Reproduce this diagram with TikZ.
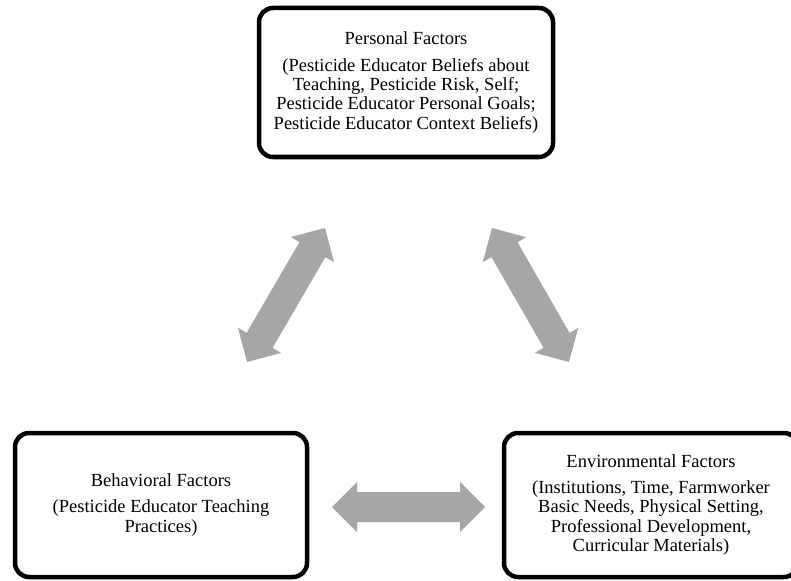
\documentclass[tikz,border=0pt]{standalone}
\usepackage{fontspec}
\setmainfont{Liberation Serif}
\usetikzlibrary{calc}
\definecolor{arrowgray}{HTML}{A6A6A6}

% Block-shaped double arrow between two named coordinates:
% head length 25pt, head half-width 25pt, shaft half-width 15pt.
\newcommand\blockarrow[2]{%
  \coordinate (ba1) at ($(#1)!25pt!(#2)$);
  \coordinate (ba2) at ($(#2)!25pt!(#1)$);
  \fill[arrowgray] (#1)
    -- ($(ba1)!25pt!90:(#2)$) -- ($(ba1)!15pt!90:(#2)$)
    -- ($(ba2)!15pt!-90:(#1)$) -- ($(ba2)!25pt!-90:(#1)$)
    -- (#2)
    -- ($(ba2)!25pt!90:(#1)$) -- ($(ba2)!15pt!90:(#1)$)
    -- ($(ba1)!15pt!-90:(#2)$) -- ($(ba1)!25pt!-90:(#2)$)
    -- cycle;%
}

\begin{document}
\begin{tikzpicture}[x=1pt, y=-1pt,
  factor/.style={draw, line width=4.5pt, rounded corners=14pt, align=center,
    inner sep=0pt, minimum width=292pt, minimum height=144pt,
    font=\fontsize{18.5}{19.3}\selectfont}]
  \clip (0,0) rectangle (791,580);
  \fill[white] (0,0) rectangle (791,580);

  % the three factor boxes
  \node[factor, minimum width=294pt, minimum height=149pt] (personal) at (406,82.5)
    {Personal Factors\\[7pt]
     (Pesticide Educator Beliefs about\\
     Teaching, Pesticide Risk, Self;\\
     Pesticide Educator Personal Goals;\\
     Pesticide Educator Context Beliefs)};
  \node[factor] (behavioral) at (161,505)
    {Behavioral Factors\\[7pt]
     (Pesticide Educator Teaching\\
     Practices)};
  \node[factor, minimum width=294pt] (environmental) at (651,505)
    {Environmental Factors\\[7pt]
     (Institutions, Time, Farmworker\\
     Basic Needs, Physical Setting,\\
     Professional Development,\\
     Curricular Materials)};

  % arrow end points
  \coordinate (pb) at (325,228);
  \coordinate (bp) at (247,362);
  \coordinate (pe) at (492,228);
  \coordinate (ep) at (569,362);
  \coordinate (be) at (332,507);
  \coordinate (eb) at (485,507);

  % reciprocal influences
  \blockarrow{bp}{pb}
  \blockarrow{pe}{ep}
  \blockarrow{be}{eb}
\end{tikzpicture}
\end{document}
